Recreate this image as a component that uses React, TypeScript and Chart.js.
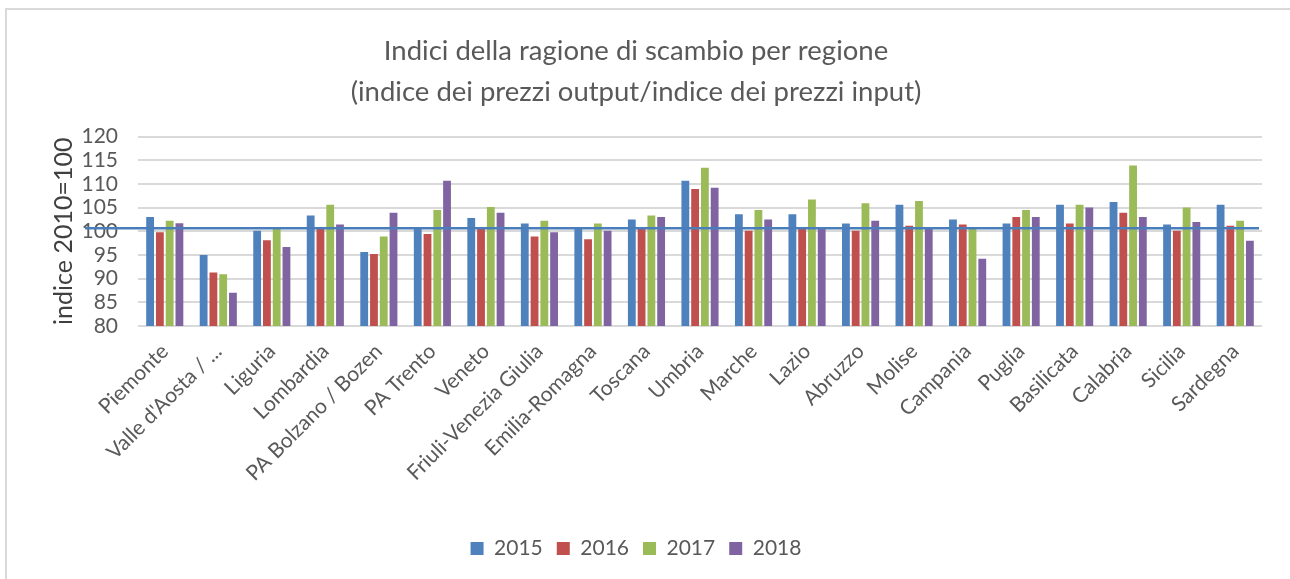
import { useEffect, useRef } from "react";
import { Chart, registerables } from "chart.js";

Chart.register(...registerables);

const categories = [
  "Piemonte",
  "Valle d'Aosta / ...",
  "Liguria",
  "Lombardia",
  "PA Bolzano / Bozen",
  "PA Trento",
  "Veneto",
  "Friuli-Venezia Giulia",
  "Emilia-Romagna",
  "Toscana",
  "Umbria",
  "Marche",
  "Lazio",
  "Abruzzo",
  "Molise",
  "Campania",
  "Puglia",
  "Basilicata",
  "Calabria",
  "Sicilia",
  "Sardegna",
];

const years = ["2015", "2016", "2017", "2018"];

const values2015 = [103.0, 95.0, 100.1, 103.3, 95.6, 100.6, 102.8, 101.65, 100.5, 102.5, 110.65, 103.6, 103.6, 101.65, 105.6, 102.5, 101.65, 105.6, 106.15, 101.4, 105.6];
const values2016 = [99.8, 91.3, 98.1, 100.5, 95.2, 99.4, 100.5, 98.9, 98.3, 100.5, 108.9, 100.1, 100.5, 100.1, 101.15, 101.4, 103.0, 101.65, 103.9, 100.1, 101.15];
const values2017 = [102.2, 90.9, 100.5, 105.6, 98.9, 104.5, 105.1, 102.2, 101.65, 103.3, 113.4, 104.5, 106.7, 105.9, 106.4, 100.5, 104.5, 105.6, 113.9, 105.0, 102.2];
const values2018 = [101.7, 87.0, 96.7, 101.4, 103.9, 110.65, 103.9, 99.8, 100.1, 103.0, 109.2, 102.5, 100.5, 102.2, 100.5, 94.2, 103.0, 105.0, 103.0, 101.95, 98.0];

const seriesValues = [values2015, values2016, values2017, values2018];
const seriesColors = ["#4F81BD", "#C0504D", "#9BBB59", "#8064A2"];

const Y_MIN = 80;
const Y_MAX = 120;
const Y_STEP = 5;
const REF_VALUE = 100.65;

const titleLines = [
  "Indici della ragione di scambio per regione",
  "(indice dei prezzi output/indice dei prezzi input)",
];
const yTitle = "indice 2010=100";

const FONT = "Lato, 'Open Sans', sans-serif";
const TEXT_COLOR = "#595959";

export default function App() {
  const canvasRef = useRef<HTMLCanvasElement>(null);

  useEffect(() => {
    if (!canvasRef.current) return;

    const refLinePlugin = {
      id: "refLine",
      afterDraw(chart: any) {
        const { ctx, chartArea, scales } = chart;
        const y = scales.y.getPixelForValue(REF_VALUE);
        ctx.save();
        ctx.strokeStyle = "#4A7EBB";
        ctx.lineWidth = 2.5;
        ctx.beginPath();
        ctx.moveTo(chartArea.left - 53, y);
        ctx.lineTo(chartArea.right - 3, y);
        ctx.stroke();
        ctx.restore();
      },
    };

    const chart = new Chart(canvasRef.current, {
      type: "bar",
      data: {
        labels: categories,
        datasets: years.map((year, i) => ({
          label: year,
          data: seriesValues[i],
          backgroundColor: seriesColors[i],
          borderWidth: 0,
          categoryPercentage: 0.73,
          barPercentage: 0.8,
        })),
      },
      options: {
        responsive: false,
        animation: false,
        layout: { padding: { left: 10, right: 28, top: 0, bottom: 10 } },
        plugins: {
          title: {
            display: true,
            text: titleLines,
            color: TEXT_COLOR,
            font: { family: FONT, size: 27.5, weight: "normal", lineHeight: 1.5 },
            padding: { top: 30, bottom: 24 },
          },
          legend: {
            position: "bottom",
            labels: {
              color: TEXT_COLOR,
              font: { family: FONT, size: 21 },
              boxWidth: 13,
              boxHeight: 13,
              padding: 14,
            },
          },
          tooltip: { enabled: false },
        },
        scales: {
          x: {
            grid: { display: false },
            border: { display: false },
            ticks: {
              color: TEXT_COLOR,
              font: { family: FONT, size: 21 },
              maxRotation: 45,
              minRotation: 45,
              autoSkip: false,
              padding: 5,
            },
            afterFit(scale: any) {
              scale.height = 198;
            },
          },
          y: {
            min: Y_MIN,
            max: Y_MAX,
            grid: { color: "#d9d9d9", lineWidth: 2, drawTicks: false },
            border: { display: false },
            ticks: {
              stepSize: Y_STEP,
              autoSkip: false,
              color: TEXT_COLOR,
              font: { family: FONT, size: 21, lineHeight: 1 },
              padding: 20,
            },
            title: {
              display: true,
              text: yTitle,
              color: "#404040",
              font: { family: FONT, size: 25 },
              padding: { top: 39, bottom: 0 },
            },
            afterFit(scale: any) {
              scale.width = 128;
            },
          },
        },
      },
      plugins: [refLinePlugin],
    });

    return () => chart.destroy();
  }, []);

  return (
    <div
      style={{
        position: "fixed",
        left: 0,
        top: 0,
        width: 1290,
        height: 579,
        overflow: "hidden",
        background: "#ffffff",
      }}
    >
      <div
        style={{
          position: "absolute",
          left: 5,
          top: 8,
          width: 1300,
          height: 600,
          borderLeft: "2px solid #d9d9d9",
          borderTop: "2px solid #d9d9d9",
        }}
      />
      <canvas
        ref={canvasRef}
        width={1290}
        height={579}
        style={{ position: "absolute", left: 0, top: 0, width: 1290, height: 579 }}
      />
    </div>
  );
}
